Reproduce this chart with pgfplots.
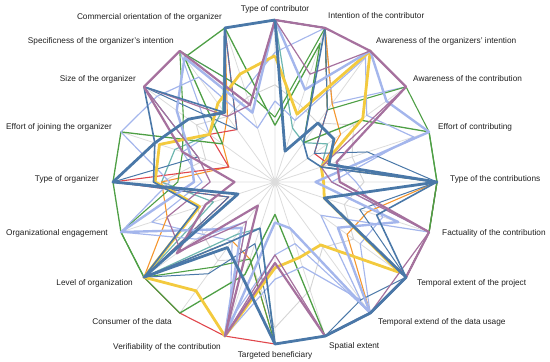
\documentclass[border=0pt]{standalone}
\usepackage{pgfplots}
\pgfplotsset{compat=1.18}
\usepgfplotslibrary{polar}
\usepackage{pgfplotstable}
\usepackage{fontspec}
\setmainfont{Liberation Sans}

\definecolor{cblue}{HTML}{4A78A8}
\definecolor{cpurple}{HTML}{A6719E}
\definecolor{cyellow}{HTML}{F3CA3E}
\definecolor{cperi}{HTML}{A4B6EC}
\definecolor{cgreen}{HTML}{4E9F45}
\definecolor{cred}{HTML}{E0474C}
\definecolor{corange}{HTML}{F5962D}
\definecolor{cteal}{HTML}{6DB6AF}
\definecolor{cgray}{HTML}{D4D4D4}
\definecolor{cgrid}{HTML}{DCDCDC}

% one row per dimension, clockwise from the top; last row closes the loop
\pgfplotstableread{
ang   s1   s2   s3   s4   s5   s6   s7   s8   s9   s10  s11  s12  s13  s14  s15
90    1    1    1    1    1    0.78 1    0.5  0.8  0.35 0.4  1    1    1    0.6
72    0.2  1    1    1    0.7  0.44 0.6  0.4  1    0.9  1    1    1    0.35 0.5
54    0.45 0.3  0.55 1    1    1    1    0.95 0.6  0.3  0.55 0.55 0.6  0.3  0.45
36    0.45 0.25 0.3  1    1    0.67 0.85 0.7  1    0.65 1    0.3  0.5  0.4  0.6
18    0.35 0.3  0.6  0.4  0.3  0.3  1    0.9  0.4  1    1    0.35 0.3  0.3  0.5
0     1    1    1    0.4  0.35 0.3  0.25 0.35 0.5  1    1    1    1    1    0.55
-18   0.32 0.66 0.55 1    1    0.32 0.8  1    0.7  1    1    1    0.6  1    0.45
-36   1    1    1    1    0.95 0.95 0.48 0.35 0.65 1    1    1    0.55 1    0.6
-54   1    1    0.9  1    1    0.48 1    0.9  1    1    1    1    1    1    0.5
-72   1    1    1    1    1    0.49 0.3  0.55 0.4  1    1    1    1    1    0.7
-90   1    1    1    0.5  0.45 0.53 0.25 0.6  0.45 0.2  1    1    1    1    0.9
-108  0.63 0.3  0.4  1    1    1    1    1    0.9  0.6  0.5  1    0.5  0.3  0.5
-126  0.5  0.45 0.7  0.18 0.3  0.83 0.35 0.3  0.45 1    0.65 1    0.45 0.4  0.6
-144  1    1    1    0.75 0.72 1    0.5  0.6  0.55 1    1    1    1    1    0.55
-162  0.24 0.5  0.3  0.45 0.7  0.49 1    1    0.8  1    1    0.3  0.7  0.4  0.5
-180  1    0.75 1    0.25 0.4  0.74 0.5  0.65 0.45 1    0.6  1    0.7  0.7  0.7
-198  0.78 0.78 0.5  0.6  0.5  0.75 0.55 1    0.6  1    0.6  0.3  0.3  0.65 0.45
-216  0.66 1    1    1    1    0.5  0.75 0.9  0.5  0.4  0.7  0.5  0.4  0.5  0.6
-234  0.53 0.53 0.4  1    0.5  0.6  0.95 0.8  1    0.95 1    0.4  0.5  0.55 0.5
-252  1    1    1    0.5  0.5  0.7  0.45 0.35 0.6  1    0.6  1    1    1    0.55
-270  1    1    1    1    1    0.78 1    0.5  0.8  0.35 0.4  1    1    1    0.6
}\radar

\begin{document}
\begin{tikzpicture}
\begin{polaraxis}[
  scale only axis, width=324bp, height=324bp,
  ymin=0, ymax=1, ytick=\empty,
  xtick={0,18,...,342},
  xticklabels={},
  xticklabel style={text opacity=0},
  xmajorgrids, major x grid style={cgrid, line width=0.8bp},
  axis line style={draw=none},
  major tick length=0pt,
  every axis plot/.append style={line join=round, no markers},
  clip=false,
]
  \addplot[cgray, line width=0.9bp] table[x=ang, y=s15] {\radar};
  \addplot[cperi, line width=1.1bp] table[x=ang, y=s9] {\radar};
  \addplot[cteal, line width=1.2bp] table[x=ang, y=s14] {\radar};
  \addplot[corange, line width=1.1bp] table[x=ang, y=s13] {\radar};
  \addplot[cred, line width=1.1bp] table[x=ang, y=s12] {\radar};
  \addplot[cgreen, line width=1.1bp] table[x=ang, y=s11] {\radar};
  \addplot[cgreen, line width=1.3bp] table[x=ang, y=s10] {\radar};
  \addplot[cperi, line width=1.2bp] table[x=ang, y=s8] {\radar};
  \addplot[cblue, line width=1.0bp] table[x=ang, y=s3] {\radar};
  \addplot[cyellow, line width=2.8bp] table[x=ang, y=s6] {\radar};
  \addplot[cperi, line width=2.4bp] table[x=ang, y=s7] {\radar};
  \addplot[cpurple, line width=1.2bp] table[x=ang, y=s5] {\radar};
  \addplot[cblue, line width=1.6bp] table[x=ang, y=s2] {\radar};
  \addplot[cpurple, line width=2.2bp] table[x=ang, y=s4] {\radar};
  \addplot[cblue, line width=2.8bp] table[x=ang, y=s1] {\radar};
  \coordinate (c) at (axis cs:0,0);
\end{polaraxis}
\begin{scope}[every node/.style={font=\fontsize{8.3}{10}\selectfont, text=black!88, inner sep=0pt}]
  \node[anchor=center] at ([shift={(0bp,173bp)}]c) {Type of contributor};
  \node[anchor=west] at ([shift={(53bp,166bp)}]c) {Intention of the contributor};
  \node[anchor=west] at ([shift={(101bp,141bp)}]c) {Awareness of the organizers' intention};
  \node[anchor=west] at ([shift={(138bp,103bp)}]c) {Awareness of the contribution};
  \node[anchor=west] at ([shift={(163bp,55bp)}]c) {Effort of contributing};
  \node[anchor=west] at ([shift={(175bp,3bp)}]c) {Type of the contributions};
  \node[anchor=west] at ([shift={(167bp,-51bp)}]c) {Factuality of the contribution};
  \node[anchor=west] at ([shift={(142bp,-101bp)}]c) {Temporal extent of the project};
  \node[anchor=west] at ([shift={(103bp,-140bp)}]c) {Temporal extend of the data usage};
  \node[anchor=west] at ([shift={(54bp,-164bp)}]c) {Spatial extent};
  \node[anchor=center] at ([shift={(0bp,-173bp)}]c) {Targeted beneficiary};
  \node[anchor=east] at ([shift={(-54bp,-165bp)}]c) {Verifiability of the contribution};
  \node[anchor=east] at ([shift={(-103bp,-140bp)}]c) {Consumer of the data};
  \node[anchor=east] at ([shift={(-142bp,-101bp)}]c) {Level of organization};
  \node[anchor=east] at ([shift={(-167bp,-51bp)}]c) {Organizational engagement};
  \node[anchor=east] at ([shift={(-176bp,3bp)}]c) {Type of organizer};
  \node[anchor=east] at ([shift={(-163bp,55bp)}]c) {Effort of joining the organizer};
  \node[anchor=east] at ([shift={(-139bp,103bp)}]c) {Size of the organizer};
  \node[anchor=east] at ([shift={(-101bp,141bp)}]c) {Specificness of the organizer's intention};
  \node[anchor=east] at ([shift={(-53bp,165bp)}]c) {Commercial orientation of the organizer};
\end{scope}
\pgfresetboundingbox
\path (c) ++(-275bp,-180bp) rectangle ++(550bp,362bp);
\end{tikzpicture}
\end{document}
